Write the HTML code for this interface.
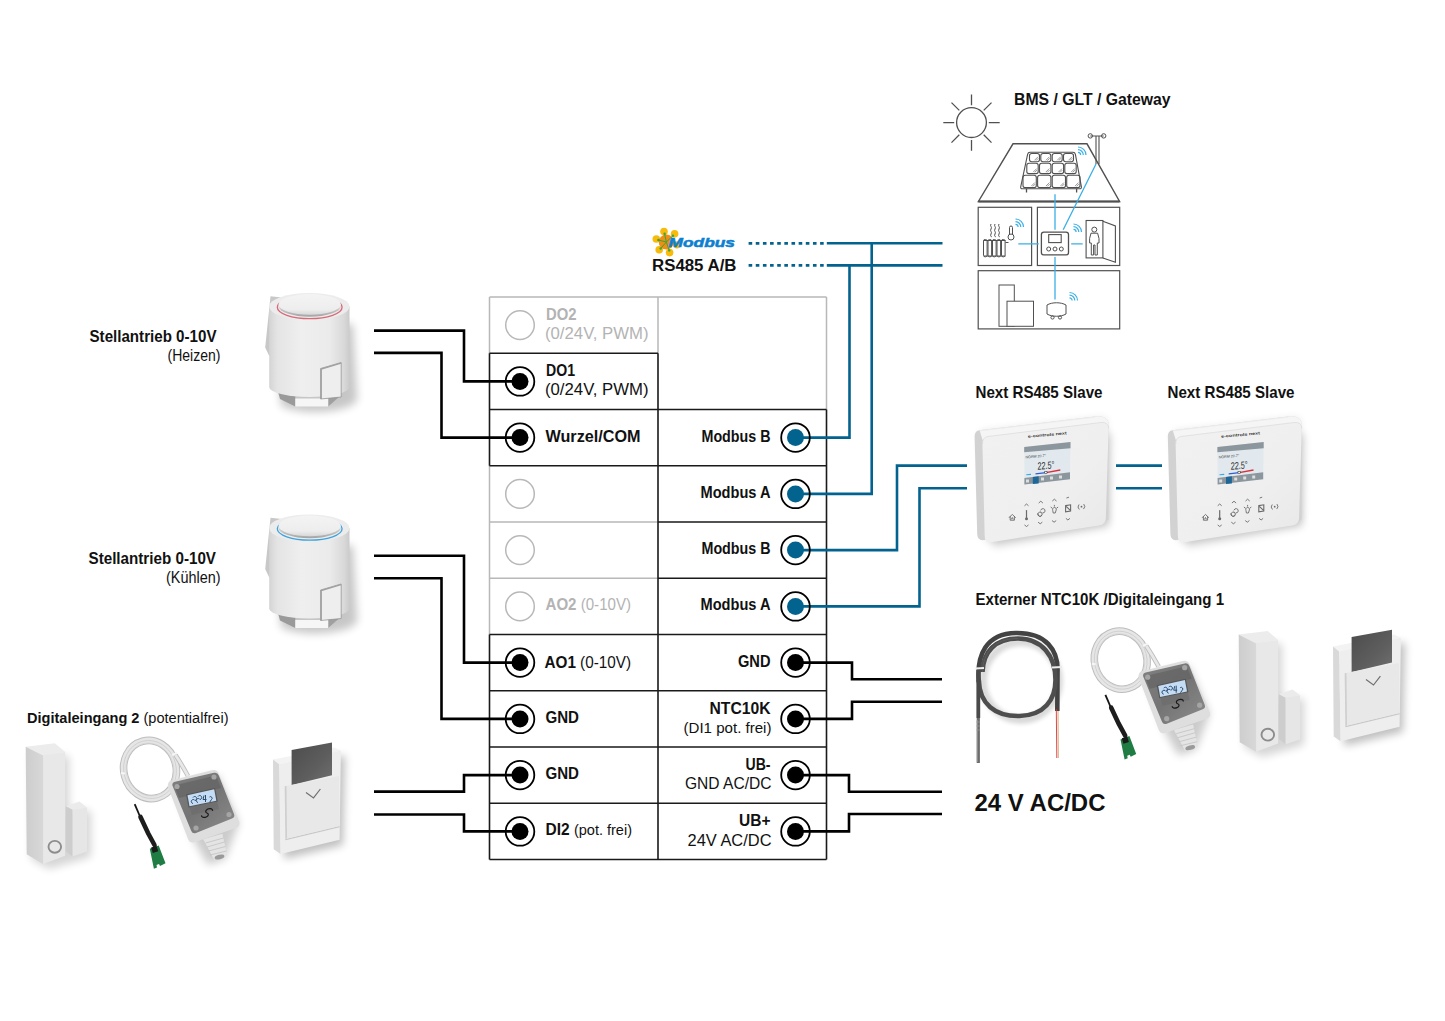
<!DOCTYPE html>
<html><head><meta charset="utf-8">
<style>
html,body{margin:0;padding:0;background:#fff;width:1445px;height:1021px;overflow:hidden}
svg{display:block}
text{font-family:"Liberation Sans",sans-serif}
.b{font-weight:bold}
</style></head><body>
<svg width="1445" height="1021" viewBox="0 0 1445 1021">
<rect width="1445" height="1021" fill="#fff"/>

<!-- HOUSE -->
<g id="house" fill="none" stroke="#505050" stroke-width="1.3">
<circle cx="971.5" cy="122.6" r="14.9"/>
<path d="M971.5,94.4V105.3M971.5,139.9V150.8M943.3,122.6H954.2M988.8,122.6H999.7M951.5,102.6L959.3,110.4M983.7,134.8L991.5,142.6M991.5,102.6L983.7,110.4M959.3,134.8L951.5,142.6"/>
<path d="M1013,143.8H1087L1119.6,201.5H978.4Z" stroke-width="1.4"/>
<path d="M978.4,201.5H1119.6" stroke-width="1.8"/>
<g stroke-width="1.1">
<rect x="1029.5" y="153.5" width="10.0" height="8.3" rx="2.2"/>
<path d="M1034.5,160.3L1038.0,156.8M1036.0,160.6L1038.3,158.3" stroke-width="0.6"/>
<rect x="1040.8" y="153.5" width="10.0" height="8.3" rx="2.2"/>
<path d="M1045.9,160.3L1049.4,156.8M1047.4,160.6L1049.7,158.3" stroke-width="0.6"/>
<rect x="1052.2" y="153.5" width="10.0" height="8.3" rx="2.2"/>
<path d="M1057.2,160.3L1060.7,156.8M1058.7,160.6L1061.0,158.3" stroke-width="0.6"/>
<rect x="1063.5" y="153.5" width="10.0" height="8.3" rx="2.2"/>
<path d="M1068.5,160.3L1072.0,156.8M1070.0,160.6L1072.3,158.3" stroke-width="0.6"/>
<rect x="1026.8" y="163.3" width="11.4" height="10.3" rx="2.2"/>
<path d="M1033.2,172.1L1036.7,168.6M1034.7,172.4L1037.0,170.1" stroke-width="0.6"/>
<rect x="1039.5" y="163.3" width="11.4" height="10.3" rx="2.2"/>
<path d="M1045.8,172.1L1049.3,168.6M1047.3,172.4L1049.6,170.1" stroke-width="0.6"/>
<rect x="1052.2" y="163.3" width="11.4" height="10.3" rx="2.2"/>
<path d="M1058.5,172.1L1062.0,168.6M1060.0,172.4L1062.3,170.1" stroke-width="0.6"/>
<rect x="1064.8" y="163.3" width="11.4" height="10.3" rx="2.2"/>
<path d="M1071.2,172.1L1074.7,168.6M1072.7,172.4L1075.0,170.1" stroke-width="0.6"/>
<rect x="1023.0" y="175.2" width="13.3" height="12.4" rx="2.2"/>
<path d="M1031.3,186.1L1034.8,182.6M1032.8,186.4L1035.1,184.1" stroke-width="0.6"/>
<rect x="1037.6" y="175.2" width="13.3" height="12.4" rx="2.2"/>
<path d="M1045.9,186.1L1049.4,182.6M1047.4,186.4L1049.7,184.1" stroke-width="0.6"/>
<rect x="1052.2" y="175.2" width="13.3" height="12.4" rx="2.2"/>
<path d="M1060.4,186.1L1063.9,182.6M1061.9,186.4L1064.2,184.1" stroke-width="0.6"/>
<rect x="1066.7" y="175.2" width="13.3" height="12.4" rx="2.2"/>
<path d="M1075.0,186.1L1078.5,182.6M1076.5,186.4L1078.8,184.1" stroke-width="0.6"/>
<path d="M1030,152.3 H1073 Q1075,152.3 1075.4,154.3 L1081.4,186.8 Q1081.6,188.8 1079.6,188.8 H1022.4 Q1020.4,188.8 1020.7,186.8 L1027.6,154.3 Q1028,152.3 1030,152.3 Z" stroke-width="1.1"/>
<path d="M1026.5,188.8V192.5M1076.6,188.8V192.5" stroke-width="1.3"/>
</g>
<path d="M1096,164V136.5M1099,164V136.5M1090.3,136H1103.7" stroke-width="1.1"/>
<circle cx="1090.3" cy="135.9" r="2.2" stroke-width="1"/>
<circle cx="1103.7" cy="135.9" r="2.2" stroke-width="1"/>
<g stroke-width="1.2"><rect x="978.2" y="207.3" width="53.4" height="58.2"/>
<rect x="1037.4" y="207.3" width="82.3" height="58.2"/>
<rect x="978.2" y="270.7" width="141.5" height="58.2"/></g>
<rect x="1041.4" y="232.1" width="27.1" height="22.8" rx="2.5"/>
<rect x="1048.7" y="234.6" width="12.5" height="8" stroke-width="1.1"/>
<circle cx="1048.7" cy="249" r="2" stroke-width="1"/><circle cx="1055" cy="249" r="2" stroke-width="1"/><circle cx="1061.3" cy="249" r="2" stroke-width="1"/>
<g stroke-width="1">
<path d="M984,240.5H1005.5M984,256H1005.5"/>
<rect x="983.5" y="239.5" width="3.6" height="17.3" rx="1.5"/>
<rect x="988" y="239.5" width="3.6" height="17.3" rx="1.5"/>
<rect x="992.5" y="239.5" width="3.6" height="17.3" rx="1.5"/>
<rect x="997" y="239.5" width="3.6" height="17.3" rx="1.5"/>
<rect x="1001.5" y="239.5" width="3.6" height="17.3" rx="1.5"/>
<path d="M1005.5,242.5H1008.5"/>
<path d="M991,224c-1.5,2 1.5,3 0,5s1.5,3 0,5 1.5,3 0,3M995,224c-1.5,2 1.5,3 0,5s1.5,3 0,5 1.5,3 0,3M999,224c-1.5,2 1.5,3 0,5s1.5,3 0,5 1.5,3 0,3"/>
<path d="M1009.5,234.5V227.5a1.5,1.5 0 0 1 3,0V234.5"/>
<circle cx="1011" cy="237" r="3"/>
</g>
<rect x="1086.1" y="220.5" width="16.8" height="37.4" stroke-width="1.1"/>
<path d="M1102.9,221.2L1115.4,226V262.3L1102.9,257.9" stroke-width="1.1"/>
<g stroke-width="1">
<circle cx="1094.3" cy="229.6" r="2.5"/>
<path d="M1091,233.2H1097.6L1099,238.5V243H1097.3V255H1095V245H1093.6V255H1091.3V243H1089.6V238.5Z"/>
<rect x="999" y="285" width="15.3" height="41.3"/>
<rect x="1007" y="301.2" width="26.5" height="25.1" fill="#fff"/>
<path d="M1047,305c5,-3 14,-3 19,0v9c-5,3 -14,3 -19,0Z"/>
<circle cx="1052.5" cy="317.5" r="1.6"/><circle cx="1060" cy="317.5" r="1.6"/>
</g>
</g>
<g fill="none" stroke="#3ab0e6" stroke-width="1.3">
<path d="M1055,194.3V229.8M1055,257.1V299.5M1018.3,243.9H1038.8M1071.2,243.9H1082.7M1096,164L1063.2,229.8"/>
<g stroke-width="1.2">
<path d="M1078,147a8,8 0 0 1 8,8M1078,149.7a5.3,5.3 0 0 1 5.3,5.3M1078,152.4a2.6,2.6 0 0 1 2.6,2.6"/>
<path d="M1015.5,219a8,8 0 0 1 8,8M1015.5,221.7a5.3,5.3 0 0 1 5.3,5.3M1015.5,224.4a2.6,2.6 0 0 1 2.6,2.6"/>
<path d="M1073.5,224a8,8 0 0 1 8,8M1073.5,226.7a5.3,5.3 0 0 1 5.3,5.3M1073.5,229.4a2.6,2.6 0 0 1 2.6,2.6"/>
<path d="M1069.5,292.5a8,8 0 0 1 8,8M1069.5,295.2a5.3,5.3 0 0 1 5.3,5.3M1069.5,297.9a2.6,2.6 0 0 1 2.6,2.6"/>
</g>
</g>
<!-- MODBUS LOGO -->
<g id="modbus">
<g fill="#f9bb0a">
<circle cx="664" cy="231.5" r="3.8"/><circle cx="674.6" cy="233.8" r="3.8"/><circle cx="677" cy="244.8" r="3.6"/>
<circle cx="669.6" cy="252.6" r="3.8"/><circle cx="659.2" cy="249.7" r="3.8"/><circle cx="656.3" cy="239" r="3.8"/>
</g>
<circle cx="666.3" cy="242" r="7.6" fill="#f08d12"/>
<g stroke="#36a83c" stroke-width="1" fill="none">
<path d="M666.3,242L664.6,233.8M666.3,242L672.9,235.8M666.3,242L658.4,240M666.3,242L660.7,248.5M666.3,242L669.2,250.4"/>
</g>
<g fill="#36a83c"><circle cx="664.6" cy="233.8" r="1.2"/><circle cx="672.9" cy="235.8" r="1.2"/><circle cx="658.4" cy="240" r="1.2"/><circle cx="660.7" cy="248.5" r="1.2"/><circle cx="669.2" cy="250.4" r="1.2"/></g>
<text x="668.5" y="246.6" font-size="12.6" font-weight="bold" font-style="italic" fill="#0c80d0" stroke="#0c80d0" stroke-width="0.5" textLength="66.5" lengthAdjust="spacingAndGlyphs">Modbus</text>
</g>

<defs>
<filter id="blur4" x="-50%" y="-50%" width="200%" height="200%"><feGaussianBlur stdDeviation="4"/></filter>
<filter id="blur2" x="-50%" y="-50%" width="200%" height="200%"><feGaussianBlur stdDeviation="2"/></filter>
<filter id="blur1" x="-50%" y="-50%" width="200%" height="200%"><feGaussianBlur stdDeviation="0.6"/></filter>
<linearGradient id="actBody" x1="0" y1="0" x2="1" y2="0">
<stop offset="0" stop-color="#d4d4d4"/><stop offset="0.1" stop-color="#e4e4e4"/><stop offset="0.4" stop-color="#efefef"/><stop offset="0.75" stop-color="#ebebeb"/><stop offset="0.93" stop-color="#d9d9d9"/><stop offset="1" stop-color="#cbcbcb"/>
</linearGradient>
<linearGradient id="actCap" x1="0" y1="0" x2="0" y2="1">
<stop offset="0" stop-color="#f4f4f4"/><stop offset="0.75" stop-color="#ededed"/><stop offset="1" stop-color="#d8d8d8"/>
</linearGradient>
<linearGradient id="capShadow" x1="0" y1="0" x2="0" y2="1"><stop offset="0.5" stop-color="#d6d6d6"/><stop offset="1" stop-color="#a4a4a4"/></linearGradient>
<linearGradient id="thFace" x1="0" y1="0" x2="1" y2="1">
<stop offset="0" stop-color="#f1f1f1"/><stop offset="0.6" stop-color="#efefef"/><stop offset="1" stop-color="#e8e8e8"/>
</linearGradient>
<linearGradient id="card" x1="0" y1="0" x2="1" y2="1">
<stop offset="0" stop-color="#4c4c4c"/><stop offset="0.6" stop-color="#5e5e5e"/><stop offset="1" stop-color="#707070"/>
</linearGradient>
<linearGradient id="dcSide" x1="0" y1="0" x2="1" y2="0">
<stop offset="0" stop-color="#cdcdcd"/><stop offset="1" stop-color="#d8d8d8"/>
</linearGradient>
<linearGradient id="boxCover" x1="0" y1="0" x2="1" y2="1">
<stop offset="0" stop-color="#808080"/><stop offset="0.5" stop-color="#747474"/><stop offset="1" stop-color="#8c8c8c"/>
</linearGradient>

<!-- ACTUATOR -->


<!-- THERMOSTAT -->


<!-- CARD HOLDER -->


<!-- DOOR CONTACT -->


<!-- SENSOR BOX -->

</defs>

<!-- PRODUCTS PLACED -->
<g transform="translate(250,280)" style="--ring:#d96878">
<path d="M22,40 L100,40 L104,112 A42,14 0 0 1 28,122 Z" fill="#000" opacity="0.22" filter="url(#blur4)" transform="translate(3,4)"/>
<path d="M20.5,16.3 L32,17.5 L32,60 L19.5,76.5 L15.2,67.5 Z" fill="#c8c8c8"/>
<path d="M26.7,107 L45.3,113 L45.3,126.4 L30,119 Z" fill="#9a9a9a"/>
<path d="M78.2,113 L90,108 L89,117 L78.2,126.4 Z" fill="#a0a0a0"/>
<path d="M19.2,26.5 V107 A40.15,10 0 0 0 99.5,107 V26.5 Z" fill="url(#actBody)"/>
<path d="M45.3,118.5 H78.2 V126.4 H45.3 Z" fill="#f6f6f6"/>
<ellipse cx="59.35" cy="26.5" rx="40.15" ry="13.5" fill="#ececec"/>
<ellipse cx="59.7" cy="27.3" rx="32.4" ry="11.3" fill="none" style="stroke:var(--ring)" stroke-width="1.3"/>
<ellipse cx="59.7" cy="26.2" rx="31.2" ry="10.5" fill="url(#capShadow)"/>
<ellipse cx="59.7" cy="24.4" rx="31.2" ry="10.3" fill="url(#actCap)"/>
<path d="M70.6,88.5 L91.2,82.5 V117 L70.6,119 Z" fill="#eeeeee" stroke="#8c8c8c" stroke-width="0.7"/>
<path d="M71.2,119 V89 L91,83.2" fill="none" stroke="#a0a0a0" stroke-width="1.4"/>
</g>
<g transform="translate(250,501.5)" style="--ring:#3ba3dd">
<path d="M22,40 L100,40 L104,112 A42,14 0 0 1 28,122 Z" fill="#000" opacity="0.22" filter="url(#blur4)" transform="translate(3,4)"/>
<path d="M20.5,16.3 L32,17.5 L32,60 L19.5,76.5 L15.2,67.5 Z" fill="#c8c8c8"/>
<path d="M26.7,107 L45.3,113 L45.3,126.4 L30,119 Z" fill="#9a9a9a"/>
<path d="M78.2,113 L90,108 L89,117 L78.2,126.4 Z" fill="#a0a0a0"/>
<path d="M19.2,26.5 V107 A40.15,10 0 0 0 99.5,107 V26.5 Z" fill="url(#actBody)"/>
<path d="M45.3,118.5 H78.2 V126.4 H45.3 Z" fill="#f6f6f6"/>
<ellipse cx="59.35" cy="26.5" rx="40.15" ry="13.5" fill="#ececec"/>
<ellipse cx="59.7" cy="27.3" rx="32.4" ry="11.3" fill="none" style="stroke:var(--ring)" stroke-width="1.3"/>
<ellipse cx="59.7" cy="26.2" rx="31.2" ry="10.5" fill="url(#capShadow)"/>
<ellipse cx="59.7" cy="24.4" rx="31.2" ry="10.3" fill="url(#actCap)"/>
<path d="M70.6,88.5 L91.2,82.5 V117 L70.6,119 Z" fill="#eeeeee" stroke="#8c8c8c" stroke-width="0.7"/>
<path d="M71.2,119 V89 L91,83.2" fill="none" stroke="#a0a0a0" stroke-width="1.4"/>
</g>
<g transform="translate(960,410)">
<path d="M20,22 L146,8 L148,112 L26,132 Z" fill="#000" opacity="0.12" filter="url(#blur4)"/>
<path d="M26,36 L148,20 L146,114 L30,134 Z" fill="#000" opacity="0.16" filter="url(#blur4)" transform="translate(3,3)"/>
<path d="M19.5,20.3 L135,6.5 Q145.5,5.4 148.4,12 L148.4,110 L24,130 Q17.5,131 17.2,124 L14.6,26 Q14.8,21 19.5,20.3 Z" fill="#d2d2d2"/>
<path d="M19.5,20.3 L135,6.5 Q145.5,5.4 148.4,12 L148.6,16 L22.6,30 Z" fill="#f5f5f5"/>
<path d="M19.5,20.8 L135,7" stroke="#e4e4e4" stroke-width="0.6"/>
<path d="M28,26.5 L141,12.5 Q148.6,11.8 148.6,18.5 L145.8,108.5 Q145.6,114.6 139,115.5 L31,132.2 Q24.7,133 24.7,126 L22.4,33.5 Q22.4,27.2 28,26.5 Z" fill="url(#thFace)"/>
<path d="M22.5,34 Q22.4,27.2 28,26.5 L141,12.5 Q148.6,11.8 148.6,18.5" fill="none" stroke="#dadada" stroke-width="0.7"/>
<path d="M64.2,37.1 L110.5,32 L110,69.2 L64.4,74.6 Z" fill="#e2e9ee"/>
<path d="M64.2,37.1 L110.5,32 L110.5,38.2 L64.2,42.2 Z" fill="#8c969d"/>
<path d="M64.4,68.1 L110,62.2 L110,69.2 L64.4,74.6 Z" fill="#8c969d"/>
<path d="M72.8,67 L78.7,66.3 L78.7,73.4 L72.8,74.1 Z" fill="#1f6796"/>
<text x="77.5" y="59.8" font-size="10.5" fill="#2a2a2a" transform="skewY(-5) translate(0,6.8)" textLength="17" lengthAdjust="spacingAndGlyphs">22.5°</text>
<text x="65.5" y="48.5" font-size="3.6" fill="#333" transform="skewY(-5) translate(0,5.7)">NORM  20.7°</text>
<path d="M66.3,64.8 L71,64.4" stroke="#35aae6" stroke-width="1.1"/>
<path d="M75.5,63.8 L86,62.6" stroke="#2f5fcf" stroke-width="1.3"/>
<path d="M86,62.6 L100.3,60" stroke="#d8303c" stroke-width="1.3"/>
<rect x="84.8" y="61.4" width="2.2" height="2.2" fill="#fff" stroke="#222" stroke-width="0.5"/>
<g fill="#f0f0f0" opacity="0.8"><rect x="66" y="69.5" width="3" height="3"/><rect x="81" y="67.5" width="3" height="3"/><rect x="90" y="66.5" width="3" height="3"/><rect x="99" y="65.5" width="3" height="3"/></g>
<text x="68" y="27.8" font-size="4" font-weight="bold" fill="#3a3a3a" transform="rotate(-5 68 27)" textLength="39" lengthAdjust="spacingAndGlyphs">e-controls next</text>
<g fill="none" stroke="#6a6a6a" stroke-width="0.9" stroke-linecap="round">
<path d="M49.2,107.5 L52.3,104.4 L55.4,107.5 M50.2,106.6 V110.2 H54.4 V106.6"/>
<path d="M51.5,109 L52.3,107.5 L53.1,109"/>
<path d="M66.5,100.5 V107.5" stroke-width="1.2"/>
<circle cx="66.5" cy="108.8" r="1.5" fill="#6a6a6a" stroke="none"/>
<path d="M64.8,95.5 L66.5,94 L68.2,95.5 M64.8,115.2 L66.5,116.5 L68.2,115.2"/>
<path d="M80.8,100 a2.2,2.2 0 1 1 2,3 M80.8,102.1 a2.2,2.2 0 1 1 -3,1.5 M80.8,102.1 a2.2,2.2 0 1 0 1.2,3.2"/>
<path d="M79,92.8 L80.8,91.2 L82.6,92.8 M78.4,112.4 L80.2,113.8 L82,112.4"/>
<path d="M92.6,100 a1.9,1.9 0 1 1 3.6,0 L95.2,103 H93.6 Z M92,98 L91,97.3 M96.8,98 L97.8,97.3 M94.4,96.2 V95.3"/>
<path d="M92.6,90.8 L94.4,89.2 L96.2,90.8 M92.3,110.8 L94.1,112.2 L95.9,110.8"/>
<path d="M105.6,95.6 L110.6,94.8 V101 L105.6,101.8 Z M106.4,96.6 L109.8,99.8" stroke-width="1.1"/>
<path d="M106.8,87.9 L108.6,87.3 M106.2,108.6 L107.9,110 L109.6,108.6"/>
<path d="M118.8,94.8 a3.2,3.2 0 0 0 0.2,4.4 M124,94.4 a3.2,3.2 0 0 1 -0.2,4.4"/>
<circle cx="121.5" cy="96.7" r="0.9" fill="#6a6a6a" stroke="none"/>
</g>
</g>
<g transform="translate(1153.2,410)">
<path d="M20,22 L146,8 L148,112 L26,132 Z" fill="#000" opacity="0.12" filter="url(#blur4)"/>
<path d="M26,36 L148,20 L146,114 L30,134 Z" fill="#000" opacity="0.16" filter="url(#blur4)" transform="translate(3,3)"/>
<path d="M19.5,20.3 L135,6.5 Q145.5,5.4 148.4,12 L148.4,110 L24,130 Q17.5,131 17.2,124 L14.6,26 Q14.8,21 19.5,20.3 Z" fill="#d2d2d2"/>
<path d="M19.5,20.3 L135,6.5 Q145.5,5.4 148.4,12 L148.6,16 L22.6,30 Z" fill="#f5f5f5"/>
<path d="M19.5,20.8 L135,7" stroke="#e4e4e4" stroke-width="0.6"/>
<path d="M28,26.5 L141,12.5 Q148.6,11.8 148.6,18.5 L145.8,108.5 Q145.6,114.6 139,115.5 L31,132.2 Q24.7,133 24.7,126 L22.4,33.5 Q22.4,27.2 28,26.5 Z" fill="url(#thFace)"/>
<path d="M22.5,34 Q22.4,27.2 28,26.5 L141,12.5 Q148.6,11.8 148.6,18.5" fill="none" stroke="#dadada" stroke-width="0.7"/>
<path d="M64.2,37.1 L110.5,32 L110,69.2 L64.4,74.6 Z" fill="#e2e9ee"/>
<path d="M64.2,37.1 L110.5,32 L110.5,38.2 L64.2,42.2 Z" fill="#8c969d"/>
<path d="M64.4,68.1 L110,62.2 L110,69.2 L64.4,74.6 Z" fill="#8c969d"/>
<path d="M72.8,67 L78.7,66.3 L78.7,73.4 L72.8,74.1 Z" fill="#1f6796"/>
<text x="77.5" y="59.8" font-size="10.5" fill="#2a2a2a" transform="skewY(-5) translate(0,6.8)" textLength="17" lengthAdjust="spacingAndGlyphs">22.5°</text>
<text x="65.5" y="48.5" font-size="3.6" fill="#333" transform="skewY(-5) translate(0,5.7)">NORM  20.7°</text>
<path d="M66.3,64.8 L71,64.4" stroke="#35aae6" stroke-width="1.1"/>
<path d="M75.5,63.8 L86,62.6" stroke="#2f5fcf" stroke-width="1.3"/>
<path d="M86,62.6 L100.3,60" stroke="#d8303c" stroke-width="1.3"/>
<rect x="84.8" y="61.4" width="2.2" height="2.2" fill="#fff" stroke="#222" stroke-width="0.5"/>
<g fill="#f0f0f0" opacity="0.8"><rect x="66" y="69.5" width="3" height="3"/><rect x="81" y="67.5" width="3" height="3"/><rect x="90" y="66.5" width="3" height="3"/><rect x="99" y="65.5" width="3" height="3"/></g>
<text x="68" y="27.8" font-size="4" font-weight="bold" fill="#3a3a3a" transform="rotate(-5 68 27)" textLength="39" lengthAdjust="spacingAndGlyphs">e-controls next</text>
<g fill="none" stroke="#6a6a6a" stroke-width="0.9" stroke-linecap="round">
<path d="M49.2,107.5 L52.3,104.4 L55.4,107.5 M50.2,106.6 V110.2 H54.4 V106.6"/>
<path d="M51.5,109 L52.3,107.5 L53.1,109"/>
<path d="M66.5,100.5 V107.5" stroke-width="1.2"/>
<circle cx="66.5" cy="108.8" r="1.5" fill="#6a6a6a" stroke="none"/>
<path d="M64.8,95.5 L66.5,94 L68.2,95.5 M64.8,115.2 L66.5,116.5 L68.2,115.2"/>
<path d="M80.8,100 a2.2,2.2 0 1 1 2,3 M80.8,102.1 a2.2,2.2 0 1 1 -3,1.5 M80.8,102.1 a2.2,2.2 0 1 0 1.2,3.2"/>
<path d="M79,92.8 L80.8,91.2 L82.6,92.8 M78.4,112.4 L80.2,113.8 L82,112.4"/>
<path d="M92.6,100 a1.9,1.9 0 1 1 3.6,0 L95.2,103 H93.6 Z M92,98 L91,97.3 M96.8,98 L97.8,97.3 M94.4,96.2 V95.3"/>
<path d="M92.6,90.8 L94.4,89.2 L96.2,90.8 M92.3,110.8 L94.1,112.2 L95.9,110.8"/>
<path d="M105.6,95.6 L110.6,94.8 V101 L105.6,101.8 Z M106.4,96.6 L109.8,99.8" stroke-width="1.1"/>
<path d="M106.8,87.9 L108.6,87.3 M106.2,108.6 L107.9,110 L109.6,108.6"/>
<path d="M118.8,94.8 a3.2,3.2 0 0 0 0.2,4.4 M124,94.4 a3.2,3.2 0 0 1 -0.2,4.4"/>
<circle cx="121.5" cy="96.7" r="0.9" fill="#6a6a6a" stroke="none"/>
</g>
</g>
<g transform="translate(260,730)">
<path d="M19,36 L82,22 L80,112 L21,126 Z" fill="#000" opacity="0.25" filter="url(#blur4)" transform="translate(3,3)"/>
<path d="M13,29.5 L74,17.5 L80.9,20.6 L19.2,34.3 Z" fill="#f3f3f3"/>
<path d="M13,29.5 L19.2,34.3 L20.6,124.1 L13.7,119.3 Z" fill="#d9d9d9"/>
<path d="M19.2,34.3 L80.9,20.6 L79.6,109.7 L20.6,124.1 Z" fill="#eeeeee"/>
<path d="M31.6,19.9 L72,12.6 L72,45.3 L31.6,54.9 Z" fill="url(#card)"/>
<path d="M25.4,109.6 L79.6,96.6" stroke="#c8c8c8" stroke-width="1.2" fill="none"/>
<path d="M24.7,56.2 L78.9,46 L79.6,96 L25.4,109 Z" fill="#e8e8e8"/>
<path d="M24.7,56.2 L26.5,56 L27,108.5 L25.4,109 Z" fill="#cfcfcf"/>
<path d="M46,62.4 L53.5,67.9 L60.4,59" fill="none" stroke="#707070" stroke-width="1.2"/>
</g>
<g transform="translate(1320,617.1)">
<path d="M19,36 L82,22 L80,112 L21,126 Z" fill="#000" opacity="0.25" filter="url(#blur4)" transform="translate(3,3)"/>
<path d="M13,29.5 L74,17.5 L80.9,20.6 L19.2,34.3 Z" fill="#f3f3f3"/>
<path d="M13,29.5 L19.2,34.3 L20.6,124.1 L13.7,119.3 Z" fill="#d9d9d9"/>
<path d="M19.2,34.3 L80.9,20.6 L79.6,109.7 L20.6,124.1 Z" fill="#eeeeee"/>
<path d="M31.6,19.9 L72,12.6 L72,45.3 L31.6,54.9 Z" fill="url(#card)"/>
<path d="M25.4,109.6 L79.6,96.6" stroke="#c8c8c8" stroke-width="1.2" fill="none"/>
<path d="M24.7,56.2 L78.9,46 L79.6,96 L25.4,109 Z" fill="#e8e8e8"/>
<path d="M24.7,56.2 L26.5,56 L27,108.5 L25.4,109 Z" fill="#cfcfcf"/>
<path d="M46,62.4 L53.5,67.9 L60.4,59" fill="none" stroke="#707070" stroke-width="1.2"/>
</g>
<g transform="translate(15,735)">
<path d="M12,14 L50,17 L50,70 L72,72 L72,118 L30,130 L12,120 Z" fill="#000" opacity="0.16" filter="url(#blur4)" transform="translate(4,4)"/>
<path d="M10.7,11.7 L39.8,8.2 L50.1,17.1 L28.1,20.6 Z" fill="#ececec"/>
<path d="M10.7,11.7 L28.1,20.6 L28.1,128.9 L11.7,119.3 Z" fill="url(#dcSide)"/>
<path d="M28.1,20.6 L50.1,17.1 L50.1,120.7 L28.1,128.9 Z" fill="#e8e8e8"/>
<ellipse cx="39.8" cy="111.8" rx="6.3" ry="5.9" fill="none" stroke="#8c8c8c" stroke-width="1.9"/>
<path d="M50.8,71.3 L64.5,66.5 L72,72.4 L57.6,74.8 Z" fill="#ebebeb"/>
<path d="M50.8,71.3 L57.6,74.8 L57.6,121.4 L50.8,115.9 Z" fill="#cdcdcd"/>
<path d="M57.6,74.8 L72,72.4 L72,116.6 L57.6,121.4 Z" fill="#e6e6e6"/>
</g>
<g transform="translate(1228,622.9)">
<path d="M12,14 L50,17 L50,70 L72,72 L72,118 L30,130 L12,120 Z" fill="#000" opacity="0.16" filter="url(#blur4)" transform="translate(4,4)"/>
<path d="M10.7,11.7 L39.8,8.2 L50.1,17.1 L28.1,20.6 Z" fill="#ececec"/>
<path d="M10.7,11.7 L28.1,20.6 L28.1,128.9 L11.7,119.3 Z" fill="url(#dcSide)"/>
<path d="M28.1,20.6 L50.1,17.1 L50.1,120.7 L28.1,128.9 Z" fill="#e8e8e8"/>
<ellipse cx="39.8" cy="111.8" rx="6.3" ry="5.9" fill="none" stroke="#8c8c8c" stroke-width="1.9"/>
<path d="M50.8,71.3 L64.5,66.5 L72,72.4 L57.6,74.8 Z" fill="#ebebeb"/>
<path d="M50.8,71.3 L57.6,74.8 L57.6,121.4 L50.8,115.9 Z" fill="#cdcdcd"/>
<path d="M57.6,74.8 L72,72.4 L72,116.6 L57.6,121.4 Z" fill="#e6e6e6"/>
</g>
<g transform="translate(110,735)">
<path d="M61,47 L105,36 L126,84 L112,120 L95,126 L81,102 Z" fill="#000" opacity="0.2" filter="url(#blur4)" transform="translate(3,4)"/>
<ellipse cx="40" cy="34.5" rx="26.2" ry="29.2" transform="rotate(-15 40 34.5)" fill="none" stroke="#bdbdbd" stroke-width="7.6"/>
<ellipse cx="40" cy="34.5" rx="26.2" ry="29.2" transform="rotate(-15 40 34.5)" fill="none" stroke="#e6e6e6" stroke-width="5.6"/>
<ellipse cx="40" cy="34.5" rx="26.2" ry="29.2" transform="rotate(-15 40 34.5)" fill="none" stroke="#c9c9c9" stroke-width="0.7"/>
<ellipse cx="40" cy="34.5" rx="23.8" ry="26.8" transform="rotate(-15 40 34.5)" fill="none" stroke="#d2d2d2" stroke-width="0.6"/>
<path d="M11,38 L15,38.5 M62,20 L67,18" stroke="#f6f6f6" stroke-width="2"/>
<path d="M65.5,20 Q72,30 78,41" fill="none" stroke="#bdbdbd" stroke-width="4.6"/>
<path d="M65.5,20 Q72,30 78,41" fill="none" stroke="#e8e8e8" stroke-width="2.8"/>
<path d="M24.7,69.2 L31.5,85" fill="none" stroke="#151515" stroke-width="1.8"/>
<path d="M30.5,82 L38,98 L44.5,110" fill="none" stroke="#1d1d1d" stroke-width="4.6" stroke-linecap="round"/>
<path d="M39.8,113.8 L48.7,110.4 L55.5,128.2 L50,131 L49,129 L46.5,130 L47,132.5 L43.9,133.7 Z" fill="#1f7d44"/>
<path d="M41.1,112.6 L46.5,110.8 L48.2,116.2 L42.8,118 Z" fill="#1a1a1a"/>
<path d="M58,52 Q57,46.5 62,45.3 L102,35.3 Q107,34 109,39 L129,86 Q131,91 126,93 L85,107 Q80,109 78,104 Z" fill="#dedede"/>
<path d="M93.2,104.2 L112.4,98.7 L117.2,120.7 L104.2,124.8 Z" fill="#e4e4e4"/>
<path d="M95.5,108 L113.5,103 M97,112 L114.5,107 M98.5,116 L115.5,111.5 M100,120 L116.5,116" stroke="#c2c2c2" stroke-width="0.8"/>
<ellipse cx="109.5" cy="122" rx="5" ry="2.2" transform="rotate(-15 109.5 122)" fill="#9a9a9a"/>
<path d="M62.4,50.5 Q62,47.5 65,46.8 L104,37.8 Q107.5,37 108.8,40.5 L124,79 Q125.3,82.4 122,83.6 L86,98 Q82.6,99.3 81.3,96 Z" fill="url(#boxCover)"/>
<path d="M64,50.5 L106,40.5 L111,53 L69,63 Z" fill="#5f5f5f" opacity="0.6"/>
<circle cx="67" cy="51.5" r="2.6" fill="#a5a5a5"/><circle cx="104" cy="42" r="2.6" fill="#a5a5a5"/>
<circle cx="119" cy="79.5" r="2.6" fill="#a5a5a5"/><circle cx="86" cy="93" r="2.6" fill="#a5a5a5"/>
<path d="M76,59.5 L105,53 L107.8,66.5 L78.6,72.5 Z" fill="#555"/>
<path d="M77.5,60.3 L104.2,54.2 L106.3,65.8 L79.5,71.3 Z" fill="#c4dcf4"/>
<path d="M83,62.5 a2,2 0 1 1 2,3 a2,2 0 1 0 -2,3 M88,61.5 a2,2 0 1 1 2,3 a2,2 0 1 0 -2,3 M94,60.5 L93,64.5 H96.5 M95.5,60 V67 M99.5,62 a1.6,1.6 0 1 1 2,2.5 L99.8,67" fill="none" stroke="#2a4a70" stroke-width="1"/>
<path d="M79.5,72 L107,66.5 L109,74 L82,80 Z" fill="#6a6a6a" opacity="0.6"/>
<path d="M102.5,75.8 a3.5,2.2 -15 1 0 -5.5,2.2 a3.5,2.2 -15 1 1 -5.5,2.4" fill="none" stroke="#1a1a1a" stroke-width="1.2"/>
</g>
<g transform="translate(1080.7,625.7)">
<path d="M61,47 L105,36 L126,84 L112,120 L95,126 L81,102 Z" fill="#000" opacity="0.2" filter="url(#blur4)" transform="translate(3,4)"/>
<ellipse cx="40" cy="34.5" rx="26.2" ry="29.2" transform="rotate(-15 40 34.5)" fill="none" stroke="#bdbdbd" stroke-width="7.6"/>
<ellipse cx="40" cy="34.5" rx="26.2" ry="29.2" transform="rotate(-15 40 34.5)" fill="none" stroke="#e6e6e6" stroke-width="5.6"/>
<ellipse cx="40" cy="34.5" rx="26.2" ry="29.2" transform="rotate(-15 40 34.5)" fill="none" stroke="#c9c9c9" stroke-width="0.7"/>
<ellipse cx="40" cy="34.5" rx="23.8" ry="26.8" transform="rotate(-15 40 34.5)" fill="none" stroke="#d2d2d2" stroke-width="0.6"/>
<path d="M11,38 L15,38.5 M62,20 L67,18" stroke="#f6f6f6" stroke-width="2"/>
<path d="M65.5,20 Q72,30 78,41" fill="none" stroke="#bdbdbd" stroke-width="4.6"/>
<path d="M65.5,20 Q72,30 78,41" fill="none" stroke="#e8e8e8" stroke-width="2.8"/>
<path d="M24.7,69.2 L31.5,85" fill="none" stroke="#151515" stroke-width="1.8"/>
<path d="M30.5,82 L38,98 L44.5,110" fill="none" stroke="#1d1d1d" stroke-width="4.6" stroke-linecap="round"/>
<path d="M39.8,113.8 L48.7,110.4 L55.5,128.2 L50,131 L49,129 L46.5,130 L47,132.5 L43.9,133.7 Z" fill="#1f7d44"/>
<path d="M41.1,112.6 L46.5,110.8 L48.2,116.2 L42.8,118 Z" fill="#1a1a1a"/>
<path d="M58,52 Q57,46.5 62,45.3 L102,35.3 Q107,34 109,39 L129,86 Q131,91 126,93 L85,107 Q80,109 78,104 Z" fill="#dedede"/>
<path d="M93.2,104.2 L112.4,98.7 L117.2,120.7 L104.2,124.8 Z" fill="#e4e4e4"/>
<path d="M95.5,108 L113.5,103 M97,112 L114.5,107 M98.5,116 L115.5,111.5 M100,120 L116.5,116" stroke="#c2c2c2" stroke-width="0.8"/>
<ellipse cx="109.5" cy="122" rx="5" ry="2.2" transform="rotate(-15 109.5 122)" fill="#9a9a9a"/>
<path d="M62.4,50.5 Q62,47.5 65,46.8 L104,37.8 Q107.5,37 108.8,40.5 L124,79 Q125.3,82.4 122,83.6 L86,98 Q82.6,99.3 81.3,96 Z" fill="url(#boxCover)"/>
<path d="M64,50.5 L106,40.5 L111,53 L69,63 Z" fill="#5f5f5f" opacity="0.6"/>
<circle cx="67" cy="51.5" r="2.6" fill="#a5a5a5"/><circle cx="104" cy="42" r="2.6" fill="#a5a5a5"/>
<circle cx="119" cy="79.5" r="2.6" fill="#a5a5a5"/><circle cx="86" cy="93" r="2.6" fill="#a5a5a5"/>
<path d="M76,59.5 L105,53 L107.8,66.5 L78.6,72.5 Z" fill="#555"/>
<path d="M77.5,60.3 L104.2,54.2 L106.3,65.8 L79.5,71.3 Z" fill="#c4dcf4"/>
<path d="M83,62.5 a2,2 0 1 1 2,3 a2,2 0 1 0 -2,3 M88,61.5 a2,2 0 1 1 2,3 a2,2 0 1 0 -2,3 M94,60.5 L93,64.5 H96.5 M95.5,60 V67 M99.5,62 a1.6,1.6 0 1 1 2,2.5 L99.8,67" fill="none" stroke="#2a4a70" stroke-width="1"/>
<path d="M79.5,72 L107,66.5 L109,74 L82,80 Z" fill="#6a6a6a" opacity="0.6"/>
<path d="M102.5,75.8 a3.5,2.2 -15 1 0 -5.5,2.2 a3.5,2.2 -15 1 1 -5.5,2.4" fill="none" stroke="#1a1a1a" stroke-width="1.2"/>
</g>

<!-- NTC CABLE SENSOR -->
<g id="ntc">
<ellipse cx="1019" cy="677" rx="38" ry="39" fill="none" stroke="#000" stroke-width="8" opacity="0.15" filter="url(#blur2)" transform="translate(2,4)"/>
<path d="M978.8,682 C976.5,655 986,633.5 1016,633 C1046,632.5 1058.5,650 1057.5,672 L1057.3,711" fill="none" stroke="#434343" stroke-width="4.6"/>
<path d="M978.8,680 C979.5,704 995,716.5 1019.5,716 C1044,715.5 1055.5,700 1055.5,680 C1055.5,656 1042,638.5 1018,638.5 C995,638.5 983,652 982.5,672" fill="none" stroke="#4e4e4e" stroke-width="4.6"/>
<path d="M982.5,672 C983,652 995,638.5 1018,638.5" fill="none" stroke="#5c5c5c" stroke-width="1"/>
<path d="M978.3,670 V718" stroke="#4a4a4a" stroke-width="3.8"/>
<path d="M978.3,718 V763" stroke="#6c6c6c" stroke-width="3.2"/>
<path d="M977.2,720 V762" stroke="#a0a0a0" stroke-width="0.9"/>
<path d="M976.5,722 H980 M976.5,726 H980 M976.5,730 H980" stroke="#9a9a9a" stroke-width="0.8"/>
<path d="M1056.3,709 L1056.8,758" stroke="#e0303c" stroke-width="0.9"/>
<path d="M1058,711 L1058.3,758" stroke="#b09040" stroke-width="0.7"/>
<path d="M975.5,668.5 L984,668 M1052,667.5 L1062,667" stroke="#ececec" stroke-width="2.2"/>
</g>
<!-- TABLE -->
<g fill="none" stroke="#b8b8b8" stroke-width="1.5">
<path d="M489.5,297H826.5M489.5,297V353.25M658,297V353.25M826.5,297V409.5M489.5,465.75V634.5M489.5,522H658M489.5,578.25H658"/>
<circle cx="520" cy="325.1" r="14.3"/>
<circle cx="520" cy="493.9" r="14.3"/>
<circle cx="520" cy="550.1" r="14.3"/>
<circle cx="520" cy="606.4" r="14.3"/>
</g>
<g fill="none" stroke="#1a1a1a" stroke-width="1.6">
<path d="M489.5,353.25H658M489.5,353.25V465.75M489.5,634.5V859.5M658,353.25V859.5M826.5,409.5V859.5M489.5,409.5H826.5M489.5,465.75H826.5M658,522H826.5M658,578.25H826.5M489.5,634.5H826.5M489.5,690.75H826.5M489.5,747H826.5M489.5,803.25H826.5M489.5,859.5H826.5"/>
</g>
<!-- WIRES black -->
<g fill="none" stroke="#000" stroke-width="2.6" stroke-linejoin="miter">
<path d="M374,330.6H464V381.4H520"/>
<path d="M374,352.9H441.5V437.6H520"/>
<path d="M374,555.7H464V662.6H520"/>
<path d="M374,578.3H441.5V718.9H520"/>
<path d="M374,791.6H464V775.1H520"/>
<path d="M374,814.5H464V831.4H520"/>
<path d="M795.5,662.6H852V679.2H942"/>
<path d="M795.5,718.9H852V701.8H942"/>
<path d="M795.5,775.1H849V791.8H942"/>
<path d="M795.5,831.4H849V814H942"/>
</g>
<!-- WIRES blue -->
<g fill="none" stroke="#03638f" stroke-width="2.6">
<path d="M748.6,243.3H824M748.6,265.4H824" stroke-dasharray="3.6,3.55" stroke-width="2.8"/>
<path d="M826.8,243.3H942.5M826.8,265.4H942.5"/>
<path d="M795.5,437.6H849.5V265.4"/>
<path d="M795.5,493.9H871.7V243.3"/>
<path d="M795.5,550.1H897V465.6H967"/>
<path d="M795.5,606.4H919.5V488.2H967"/>
<path d="M1116,465.6H1162M1116,488.2H1162"/>
</g>
<!-- terminals -->
<g fill="none" stroke="#000" stroke-width="1.8">
<circle cx="520" cy="381.4" r="14.3"/><circle cx="520" cy="437.6" r="14.3"/>
<circle cx="520" cy="662.6" r="14.3"/><circle cx="520" cy="718.9" r="14.3"/>
<circle cx="520" cy="775.1" r="14.3"/><circle cx="520" cy="831.4" r="14.3"/>
<circle cx="795.5" cy="437.6" r="14.3"/><circle cx="795.5" cy="493.9" r="14.3"/>
<circle cx="795.5" cy="550.1" r="14.3"/><circle cx="795.5" cy="606.4" r="14.3"/>
<circle cx="795.5" cy="662.6" r="14.3"/><circle cx="795.5" cy="718.9" r="14.3"/>
<circle cx="795.5" cy="775.1" r="14.3"/><circle cx="795.5" cy="831.4" r="14.3"/>
</g>
<g fill="#000">
<circle cx="520" cy="381.4" r="8.5"/><circle cx="520" cy="437.6" r="8.5"/>
<circle cx="520" cy="662.6" r="8.5"/><circle cx="520" cy="718.9" r="8.5"/>
<circle cx="520" cy="775.1" r="8.5"/><circle cx="520" cy="831.4" r="8.5"/>
<circle cx="795.5" cy="662.6" r="8.5"/><circle cx="795.5" cy="718.9" r="8.5"/>
<circle cx="795.5" cy="775.1" r="8.5"/><circle cx="795.5" cy="831.4" r="8.5"/>
</g>
<g fill="#03638f">
<circle cx="795.5" cy="437.6" r="8.5"/><circle cx="795.5" cy="493.9" r="8.5"/>
<circle cx="795.5" cy="550.1" r="8.5"/><circle cx="795.5" cy="606.4" r="8.5"/>
</g>
<!-- TEXTS START -->
<g font-family="Liberation Sans, sans-serif">
<text id="t_do2" x="546.00" y="319.6" font-size="16" fill="#b3b3b3" font-weight="bold" textLength="30.50" lengthAdjust="spacingAndGlyphs">DO2</text>
<text id="t_do2b" x="545.00" y="339" font-size="16" fill="#b3b3b3" textLength="103.50" lengthAdjust="spacingAndGlyphs">(0/24V, PWM)</text>
<text id="t_do1" x="546.00" y="376.2" font-size="16" fill="#111" font-weight="bold" textLength="29.00" lengthAdjust="spacingAndGlyphs">DO1</text>
<text id="t_do1b" x="545.00" y="394.8" font-size="16" fill="#111" textLength="103.50" lengthAdjust="spacingAndGlyphs">(0/24V, PWM)</text>
<text id="t_wur" x="545.50" y="442.4" font-size="16" fill="#111" font-weight="bold" textLength="95.00" lengthAdjust="spacingAndGlyphs">Wurzel/COM</text>
<text id="t_ao2" x="545.50" y="610.4" font-size="16" fill="#b3b3b3" textLength="85.50" lengthAdjust="spacingAndGlyphs"><tspan font-weight="bold">AO2</tspan> (0-10V)</text>
<text id="t_ao1" x="544.50" y="667.5" font-size="16" fill="#111" textLength="86.50" lengthAdjust="spacingAndGlyphs"><tspan font-weight="bold">AO1</tspan> (0-10V)</text>
<text id="t_gnd1" x="545.50" y="722.9" font-size="16" fill="#111" font-weight="bold" textLength="33.50" lengthAdjust="spacingAndGlyphs">GND</text>
<text id="t_gnd2" x="545.50" y="778.5" font-size="16" fill="#111" font-weight="bold" textLength="33.50" lengthAdjust="spacingAndGlyphs">GND</text>
<text id="t_di2" x="545.50" y="835.2" font-size="16" fill="#111" textLength="86.50" lengthAdjust="spacingAndGlyphs"><tspan font-weight="bold">DI2</tspan> <tspan font-size="15">(pot. frei)</tspan></text>
<text id="t_mb1" x="770.50" y="441.6" font-size="16" fill="#111" font-weight="bold" text-anchor="end" textLength="69.00" lengthAdjust="spacingAndGlyphs">Modbus B</text>
<text id="t_ma1" x="770.50" y="497.8" font-size="16" fill="#111" font-weight="bold" text-anchor="end" textLength="70.00" lengthAdjust="spacingAndGlyphs">Modbus A</text>
<text id="t_mb2" x="770.50" y="554.3" font-size="16" fill="#111" font-weight="bold" text-anchor="end" textLength="69.00" lengthAdjust="spacingAndGlyphs">Modbus B</text>
<text id="t_ma2" x="770.50" y="610.4" font-size="16" fill="#111" font-weight="bold" text-anchor="end" textLength="70.00" lengthAdjust="spacingAndGlyphs">Modbus A</text>
<text id="t_gndr" x="770.50" y="666.9" font-size="16" fill="#111" font-weight="bold" text-anchor="end" textLength="32.50" lengthAdjust="spacingAndGlyphs">GND</text>
<text id="t_ntc" x="770.50" y="714" font-size="16" fill="#111" font-weight="bold" text-anchor="end" textLength="61.00" lengthAdjust="spacingAndGlyphs">NTC10K</text>
<text id="t_di1" x="771.50" y="732.7" font-size="15" fill="#111" text-anchor="end" textLength="88.00" lengthAdjust="spacingAndGlyphs">(DI1 pot. frei)</text>
<text id="t_ubm" x="770.50" y="769.5" font-size="16" fill="#111" font-weight="bold" text-anchor="end" textLength="25.00" lengthAdjust="spacingAndGlyphs">UB-</text>
<text id="t_gac" x="771.50" y="788.7" font-size="16" fill="#111" text-anchor="end" textLength="86.50" lengthAdjust="spacingAndGlyphs">GND AC/DC</text>
<text id="t_ubp" x="770.50" y="825.6" font-size="16" fill="#111" font-weight="bold" text-anchor="end" textLength="31.50" lengthAdjust="spacingAndGlyphs">UB+</text>
<text id="t_24ac" x="771.50" y="845.5" font-size="16" fill="#111" text-anchor="end" textLength="84.00" lengthAdjust="spacingAndGlyphs">24V AC/DC</text>
<text id="t_bms" x="1014.00" y="104.9" font-size="16" fill="#111" font-weight="bold" textLength="156.50" lengthAdjust="spacingAndGlyphs">BMS / GLT / Gateway</text>
<text id="t_rs" x="652.00" y="271.4" font-size="16" fill="#111" font-weight="bold" textLength="84.50" lengthAdjust="spacingAndGlyphs">RS485 A/B</text>
<text id="t_st1" x="216.50" y="341.6" font-size="16" fill="#111" font-weight="bold" text-anchor="end" textLength="127.00" lengthAdjust="spacingAndGlyphs">Stellantrieb 0-10V</text>
<text id="t_hz" x="220.50" y="360.5" font-size="16" fill="#111" text-anchor="end" textLength="53.00" lengthAdjust="spacingAndGlyphs">(Heizen)</text>
<text id="t_st2" x="216.00" y="564" font-size="16" fill="#111" font-weight="bold" text-anchor="end" textLength="127.50" lengthAdjust="spacingAndGlyphs">Stellantrieb 0-10V</text>
<text id="t_kh" x="220.50" y="583.3" font-size="16" fill="#111" text-anchor="end" textLength="54.50" lengthAdjust="spacingAndGlyphs">(Kühlen)</text>
<text id="t_dig" x="27.00" y="722.8" font-size="15.5" fill="#111" textLength="201.50" lengthAdjust="spacingAndGlyphs"><tspan font-weight="bold">Digitaleingang 2</tspan> (potentialfrei)</text>
<text id="t_nx1" x="975.50" y="398" font-size="16.3" fill="#111" font-weight="bold" textLength="127.00" lengthAdjust="spacingAndGlyphs">Next RS485 Slave</text>
<text id="t_nx2" x="1167.50" y="398" font-size="16.3" fill="#111" font-weight="bold" textLength="127.00" lengthAdjust="spacingAndGlyphs">Next RS485 Slave</text>
<text id="t_ext" x="975.50" y="604.6" font-size="16" fill="#111" font-weight="bold" textLength="248.50" lengthAdjust="spacingAndGlyphs">Externer NTC10K /Digitaleingang 1</text>
<text id="t_24v" x="974.50" y="810.8" font-size="23" fill="#111" font-weight="bold" textLength="131.00" lengthAdjust="spacingAndGlyphs">24 V AC/DC</text>
</g>
<!-- TEXTS END -->
</svg>
</body></html>
